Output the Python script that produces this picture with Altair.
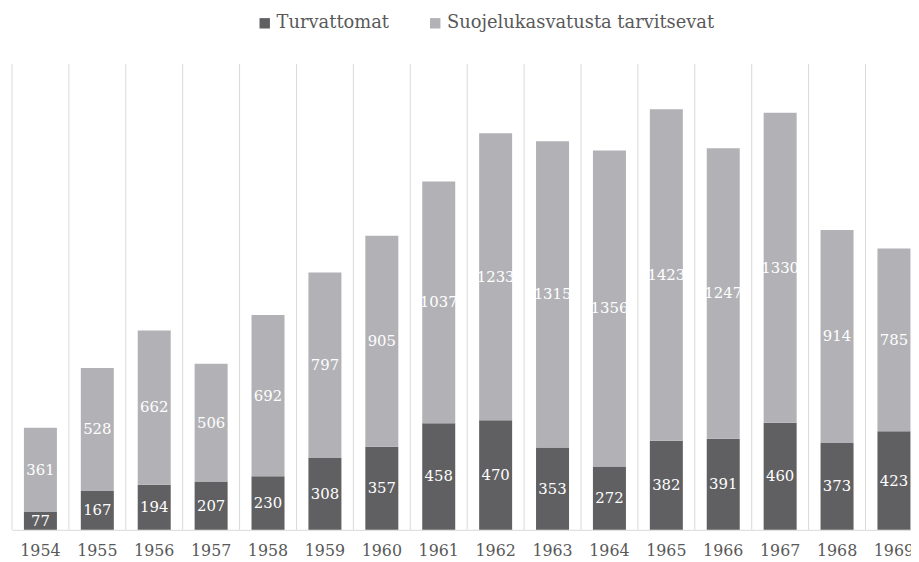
import altair as alt
import pandas as pd

years = [str(y) for y in range(1954, 1970)]
turvattomat = [77, 167, 194, 207, 230, 308, 357, 458, 470, 353, 272, 382, 391, 460, 373, 423]
suojelu = [361, 528, 662, 506, 692, 797, 905, 1037, 1233, 1315, 1356, 1423, 1247, 1330, 914, 785]
series = ["Turvattomat", "Suojelukasvatusta tarvitsevat"]
colors = ["#606062", "#b2b2b6"]

rows = []
for i, y in enumerate(years):
    rows.append({"year": y, "series": series[0], "idx": 0, "value": turvattomat[i]})
    rows.append({"year": y, "series": series[1], "idx": 1, "value": suojelu[i]})
df = pd.DataFrame(rows)
grid_df = pd.DataFrame({"year": years})

FONT = "DejaVu Serif"
RANGE_W = 918.5
STEP = RANGE_W / len(years)
P_IN = 0.42

x_scale = alt.Scale(domain=years, range=[0, RANGE_W], paddingInner=P_IN, paddingOuter=P_IN / 2)

x_axis = alt.Axis(
    labelAngle=0,
    labelFont=FONT,
    labelFontSize=16,
    labelColor="#595959",
    labelPadding=21,
    labelBaseline="middle",
    ticks=False,
    domain=True,
    domainColor="#d9d9d9",
    domainWidth=1,
    grid=False,
    bandPosition=0.5,
)

grid = alt.Chart(grid_df).mark_rule(
    color="#d9d9d9", strokeWidth=1, xOffset=-STEP / 2
).encode(
    x=alt.X("year:N", sort=years, scale=x_scale, title=None, axis=x_axis),
    y=alt.value(0),
    y2=alt.value(470),
)

bars = alt.Chart(df).mark_bar().encode(
    x=alt.X("year:N", sort=years, scale=x_scale, title=None, axis=x_axis),
    y=alt.Y("value:Q", stack="zero", axis=None, scale=alt.Scale(domain=[0, 2000], nice=False)),
    color=alt.Color(
        "series:N",
        scale=alt.Scale(domain=series, range=colors),
        legend=alt.Legend(
            title=None,
            orient="none",
            direction="horizontal",
            legendX=246,
            legendY=-50,
            symbolType="square",
            symbolSize=110,
            symbolStrokeWidth=0,
            labelFont=FONT,
            labelFontSize=18,
            labelColor="#595959",
            labelOffset=3,
            columnPadding=37,
            padding=0,
            labelLimit=400,
        ),
    ),
    order=alt.Order("idx:Q", sort="ascending"),
)

labels = alt.Chart(df).transform_stack(
    stack="value", groupby=["year"], as_=["v0", "v1"], sort=[alt.SortField("idx", order="ascending")]
).transform_calculate(
    mid="(datum.v0 + datum.v1) / 2"
).mark_text(
    color="white", font=FONT, fontSize=15, baseline="middle", align="center"
).encode(
    x=alt.X("year:N", sort=years, scale=x_scale, title=None, axis=x_axis),
    y=alt.Y("mid:Q"),
    text=alt.Text("value:Q"),
)

chart = alt.layer(grid, bars, labels).properties(
    width=907,
    height=470,
    autosize=alt.AutoSizeParams(type="none"),
    padding={"left": 4, "top": 54, "right": 0, "bottom": 28},
    background="white",
).configure_view(stroke=None)

chart.save("out.html", embed_options={"renderer": "svg", "actions": False})
